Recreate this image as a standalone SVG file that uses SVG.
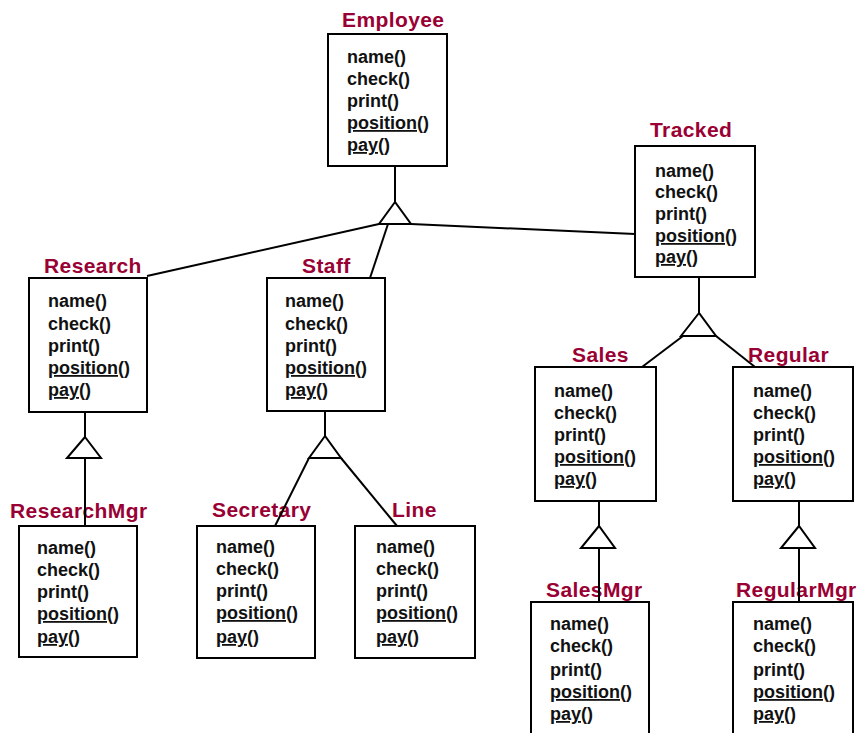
<svg xmlns="http://www.w3.org/2000/svg" width="859" height="733" viewBox="0 0 859 733">
<style>
.box{fill:#fff;stroke:#000;stroke-width:2}
.title{font-family:"Liberation Sans",Arial,sans-serif;font-weight:bold;font-size:21px;letter-spacing:0.4px;fill:#990033}
.m{font-family:"Liberation Sans",Arial,sans-serif;font-weight:bold;font-size:18px;fill:#111}
.u{text-decoration:underline}
.ln{stroke:#000;stroke-width:2;fill:none}
.tri{stroke:#000;stroke-width:2;fill:#fff;stroke-linejoin:miter}
</style>
<rect width="859" height="733" fill="#fff"/>
<g id="Employee">
<text class="title" x="342" y="27">Employee</text>
<rect class="box" x="328" y="34" width="119" height="132"/>
<text class="m" x="347" y="63">name()</text>
<text class="m" x="347" y="85">check()</text>
<text class="m" x="347" y="107">print()</text>
<text class="m u" x="347" y="129">position()</text>
<text class="m u" x="347" y="151">pay()</text>
</g>
<g id="Tracked">
<text class="title" x="650" y="137">Tracked</text>
<rect class="box" x="635" y="146" width="120" height="131"/>
<text class="m" x="655" y="177">name()</text>
<text class="m" x="655" y="198">check()</text>
<text class="m" x="655" y="220">print()</text>
<text class="m u" x="655" y="242">position()</text>
<text class="m u" x="655" y="263">pay()</text>
</g>
<g id="Research">
<text class="title" x="44" y="273">Research</text>
<rect class="box" x="29" y="278" width="118" height="134"/>
<text class="m" x="48" y="307">name()</text>
<text class="m" x="48" y="330">check()</text>
<text class="m" x="48" y="352">print()</text>
<text class="m u" x="48" y="374">position()</text>
<text class="m u" x="48" y="396">pay()</text>
</g>
<g id="Staff">
<text class="title" x="302" y="273">Staff</text>
<rect class="box" x="267" y="278" width="118" height="133"/>
<text class="m" x="285" y="307">name()</text>
<text class="m" x="285" y="330">check()</text>
<text class="m" x="285" y="352">print()</text>
<text class="m u" x="285" y="374">position()</text>
<text class="m u" x="285" y="396">pay()</text>
</g>
<g id="Sales">
<text class="title" x="572" y="362">Sales</text>
<rect class="box" x="535" y="367" width="121" height="134"/>
<text class="m" x="554" y="397">name()</text>
<text class="m" x="554" y="419">check()</text>
<text class="m" x="554" y="441">print()</text>
<text class="m u" x="554" y="463">position()</text>
<text class="m u" x="554" y="485">pay()</text>
</g>
<g id="Regular">
<text class="title" x="748" y="362">Regular</text>
<rect class="box" x="733" y="367" width="120" height="134"/>
<text class="m" x="753" y="397">name()</text>
<text class="m" x="753" y="419">check()</text>
<text class="m" x="753" y="441">print()</text>
<text class="m u" x="753" y="463">position()</text>
<text class="m u" x="753" y="485">pay()</text>
</g>
<g id="ResearchMgr">
<text class="title" x="10" y="518">ResearchMgr</text>
<rect class="box" x="19" y="526" width="118" height="131"/>
<text class="m" x="37" y="554">name()</text>
<text class="m" x="37" y="576">check()</text>
<text class="m" x="37" y="598">print()</text>
<text class="m u" x="37" y="620">position()</text>
<text class="m u" x="37" y="643">pay()</text>
</g>
<g id="Secretary">
<text class="title" x="212" y="517">Secretary</text>
<rect class="box" x="197" y="526" width="118" height="132"/>
<text class="m" x="216" y="553">name()</text>
<text class="m" x="216" y="575">check()</text>
<text class="m" x="216" y="597">print()</text>
<text class="m u" x="216" y="619">position()</text>
<text class="m u" x="216" y="643">pay()</text>
</g>
<g id="Line">
<text class="title" x="392" y="517">Line</text>
<rect class="box" x="355" y="526" width="120" height="132"/>
<text class="m" x="376" y="553">name()</text>
<text class="m" x="376" y="575">check()</text>
<text class="m" x="376" y="597">print()</text>
<text class="m u" x="376" y="619">position()</text>
<text class="m u" x="376" y="643">pay()</text>
</g>
<g id="SalesMgr">
<text class="title" x="546" y="597">SalesMgr</text>
<rect class="box" x="531" y="602" width="118" height="140"/>
<text class="m" x="550" y="630">name()</text>
<text class="m" x="550" y="652">check()</text>
<text class="m" x="550" y="676">print()</text>
<text class="m u" x="550" y="698">position()</text>
<text class="m u" x="550" y="720">pay()</text>
</g>
<g id="RegularMgr">
<text class="title" x="736" y="597">RegularMgr</text>
<rect class="box" x="733" y="602" width="120" height="140"/>
<text class="m" x="753" y="630">name()</text>
<text class="m" x="753" y="652">check()</text>
<text class="m" x="753" y="676">print()</text>
<text class="m u" x="753" y="698">position()</text>
<text class="m u" x="753" y="720">pay()</text>
</g>
<g id="connectors">
<line class="ln" x1="395" y1="166" x2="395" y2="202"/>
<polygon class="tri" points="395,202 379,224 411,224"/>
<line class="ln" x1="379" y1="224" x2="147" y2="276"/>
<line class="ln" x1="388" y1="224" x2="370" y2="278"/>
<line class="ln" x1="411" y1="224" x2="635" y2="234"/>
<line class="ln" x1="85" y1="412" x2="85" y2="437"/>
<polygon class="tri" points="85,437 67,458 101,458"/>
<line class="ln" x1="85" y1="458" x2="85" y2="526"/>
<line class="ln" x1="325" y1="411" x2="325" y2="436"/>
<polygon class="tri" points="325,436 309,458 341,458"/>
<line class="ln" x1="309" y1="458" x2="275" y2="526"/>
<line class="ln" x1="341" y1="458" x2="397" y2="526"/>
<line class="ln" x1="699" y1="277" x2="699" y2="313"/>
<polygon class="tri" points="699,313 681,336 716,336"/>
<line class="ln" x1="683" y1="336" x2="642" y2="367"/>
<line class="ln" x1="716" y1="336" x2="755" y2="367"/>
<line class="ln" x1="599" y1="501" x2="599" y2="526"/>
<polygon class="tri" points="599,526 581,548 615,548"/>
<line class="ln" x1="599" y1="548" x2="599" y2="602"/>
<line class="ln" x1="799" y1="501" x2="799" y2="526"/>
<polygon class="tri" points="799,526 781,548 815,548"/>
<line class="ln" x1="799" y1="548" x2="799" y2="602"/>
</g>
</svg>
